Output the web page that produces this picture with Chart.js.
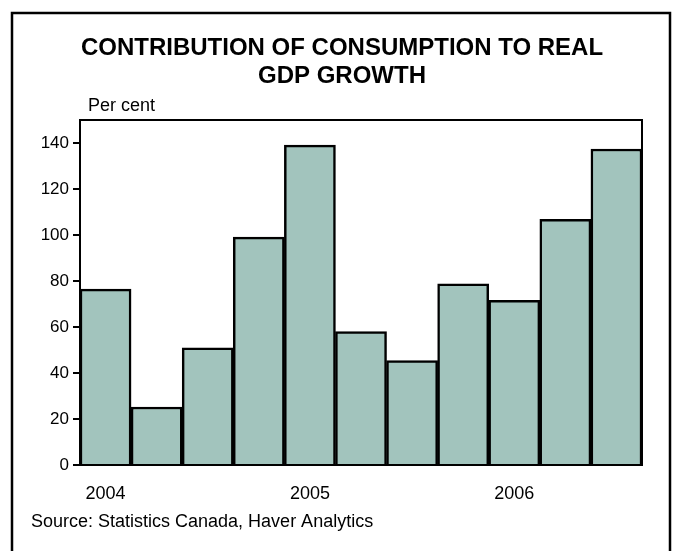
<!DOCTYPE html>
<html>
<head>
<meta charset="utf-8">
<script src="https://cdn.jsdelivr.net/npm/chart.js@4/dist/chart.umd.min.js"></script>
<style>
  html, body { margin: 0; padding: 0; background: #fff; }
  #wrap { width: 673px; height: 551px; }
</style>
</head>
<body>
<div id="wrap"><canvas id="cons"></canvas></div>
<script>
// quarterly data, 2004Q1 - 2006Q3
const quarters = ['2004Q1', '2004Q2', '2004Q3', '2004Q4', '2005Q1', '2005Q2', '2005Q3', '2005Q4', '2006Q1', '2006Q2', '2006Q3'];
const contribution = [76.5, 25.2, 50.9, 99.1, 139.1, 58.0, 45.4, 78.8, 71.6, 106.8, 137.4];
const yTicks = [0, 20, 40, 60, 80, 100, 120, 140];

const titleLines = ['CONTRIBUTION OF CONSUMPTION TO REAL', 'GDP GROWTH'];
const unitLabel = 'Per cent';
const sourceNote = 'Source: Statistics Canada, Haver Analytics';

const FONT = '"Liberation Sans", Arial, sans-serif';

// outer frame, plot box and the text around it
const decorations = {
    id: 'decorations',
    beforeDatasetsDraw(chart) {
        const { ctx, chartArea: a } = chart;
        ctx.save();
        ctx.strokeStyle = '#000';
        ctx.lineWidth = 2;
        ctx.beginPath();
        ctx.moveTo(a.left, a.top);
        ctx.lineTo(a.right, a.top);
        ctx.lineTo(a.right, a.bottom);
        ctx.stroke();
        ctx.restore();
    },
    afterDraw(chart) {
        const { ctx } = chart;
        ctx.save();
        ctx.strokeStyle = '#000';
        ctx.lineWidth = 2.5;
        ctx.beginPath();
        ctx.moveTo(12, 560);
        ctx.lineTo(12, 13);
        ctx.lineTo(670, 13);
        ctx.lineTo(670, 560);
        ctx.stroke();

        ctx.fillStyle = '#000';
        ctx.textAlign = 'center';
        ctx.textBaseline = 'middle';
        ctx.font = 'bold 24px ' + FONT;
        ctx.fillText(titleLines[0], 342, 48);
        ctx.fillText(titleLines[1], 342, 76);

        ctx.textAlign = 'left';
        ctx.font = '18px ' + FONT;
        ctx.fillText(unitLabel, 88, 106);
        ctx.fillText(sourceNote, 31, 522);
        ctx.restore();
    }
};

new Chart(document.getElementById('cons'), {
    type: 'bar',
    data: {
        labels: quarters,
        datasets: [{
            data: contribution,
            backgroundColor: '#a2c4bd',
            borderColor: '#000',
            borderWidth: 2.5,
            borderSkipped: 'bottom',
            barPercentage: 1,
            categoryPercentage: 1
        }]
    },
    options: {
        responsive: true,
        maintainAspectRatio: false,
        animation: false,
        layout: { padding: { left: 0, right: 31, top: 120, bottom: 0 } },
        plugins: {
            legend: { display: false },
            title: { display: false },
            tooltip: { enabled: false }
        },
        scales: {
            x: {
                afterFit(scale) { scale.height = 86; },
                grid: { display: true, drawOnChartArea: false, drawTicks: false },
                border: { display: true, color: '#000', width: 2 },
                ticks: {
                    autoSkip: false,
                    maxRotation: 0,
                    padding: 18,
                    color: '#000',
                    font: { family: FONT, size: 18 },
                    callback(v) {
                        const q = quarters[v];
                        return q.endsWith('Q1') ? q.slice(0, 4) : '';
                    }
                }
            },
            y: {
                min: 0,
                max: 150,
                afterFit(scale) { scale.width = 80; },
                afterBuildTicks(scale) {
                    scale.ticks = yTicks.map(v => ({ value: v }));
                },
                grid: { display: true, drawOnChartArea: false, drawTicks: true, tickLength: 7, color: '#000', lineWidth: 2 },
                border: { display: true, color: '#000', width: 2 },
                ticks: {
                    padding: 4,
                    color: '#000',
                    font: { family: FONT, size: 17 }
                }
            }
        }
    },
    plugins: [decorations]
});
</script>
</body>
</html>
